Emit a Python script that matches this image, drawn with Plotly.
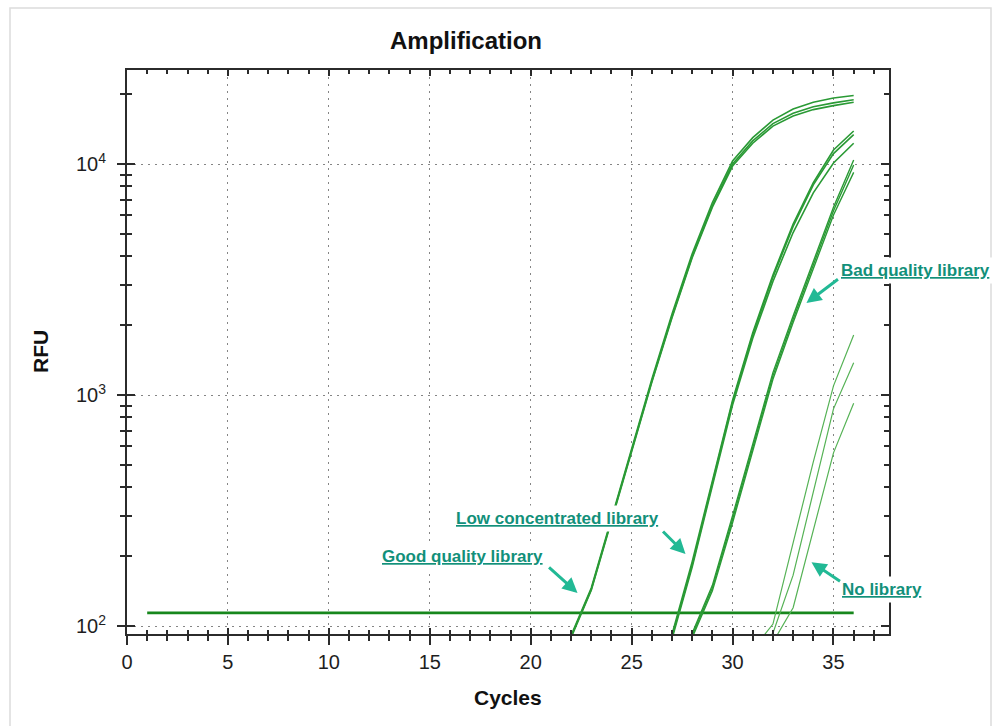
import math
import plotly.graph_objects as go

# ---------------- data ----------------
threshold_cycles = [1, 36]
threshold_rfu = [114, 114]

good_cycles = [22, 23, 24, 25, 26, 27, 28, 29, 30, 31, 32, 33, 34, 35, 36]
good_a = [91, 146, 292, 585, 1170, 2240, 4090, 6810, 10300, 13000, 15500, 17300, 18500, 19300, 19800]
good_b = [90, 144, 288, 575, 1148, 2188, 3981, 6607, 10000, 12590, 14960, 16600, 17700, 18400, 18970]
good_c = [89, 143, 285, 568, 1135, 2160, 3930, 6500, 9800, 12300, 14600, 16150, 17200, 17900, 18500]

low_cycles = [27, 28, 29, 30, 31, 32, 33, 34, 35, 36]
low_a = [92, 190, 425, 950, 1860, 3310, 5500, 8300, 11500, 13900]
low_b = [90, 184, 415, 930, 1820, 3236, 5370, 8128, 11100, 13400]
low_c = [88, 180, 405, 905, 1760, 3100, 5050, 7500, 10100, 12300]

bad_cycles = [28, 29, 30, 31, 32, 33, 34, 35, 36]
bad_a = [93, 150, 300, 620, 1250, 2200, 3800, 6500, 10400]
bad_b = [91, 146, 290, 600, 1210, 2130, 3680, 6280, 9900]
bad_c = [89, 142, 280, 580, 1170, 2060, 3540, 6020, 9200]

none_cycles = [31, 32, 33, 34, 35, 36]
none_a = [79, 102, 229, 513, 1096, 1820]
none_b = [76, 93, 166, 380, 871, 1380]
none_c = [71, 85, 120, 263, 562, 922]

x_tick_vals = [0, 5, 10, 15, 20, 25, 30, 35]
y_tick_vals = [100, 1000, 10000]
y_tick_text = ["10<sup>2</sup>", "10<sup>3</sup>", "10<sup>4</sup>"]
y_minor_vals = [200, 300, 400, 500, 600, 700, 800, 900,
                2000, 3000, 4000, 5000, 6000, 7000, 8000, 9000, 20000]

title_text = "Amplification"
x_title = "Cycles"
y_title = "RFU"

labels = ["Good quality library", "Low concentrated library", "Bad quality library", "No library"]
# arrow tips (cycle, RFU) for each label
arrow_tips = [(22.32, 139), (27.67, 205), (33.66, 2500), (33.91, 189)]

# ---------------- styling ----------------
FONT = "Liberation Sans, Arial, Helvetica, sans-serif"
CURVE = "#2a9a35"
CURVE_LIGHT = "#55b255"
BASE = "#17871c"
TEAL_TXT = "#12907a"
TEAL_ARW = "#22b995"
AXIS = "#2b2b2b"
GRID = "#858585"

fig = go.Figure()

fig.add_trace(go.Scatter(x=threshold_cycles, y=threshold_rfu, mode="lines",
                         line=dict(color=BASE, width=2.6), showlegend=False, hoverinfo="skip"))

for ys in (good_a, good_b, good_c):
    fig.add_trace(go.Scatter(x=good_cycles, y=ys, mode="lines",
                             line=dict(color=CURVE, width=1.6), showlegend=False))
for ys in (low_a, low_b, low_c):
    fig.add_trace(go.Scatter(x=low_cycles, y=ys, mode="lines",
                             line=dict(color=CURVE, width=1.6), showlegend=False))
for ys in (bad_a, bad_b, bad_c):
    fig.add_trace(go.Scatter(x=bad_cycles, y=ys, mode="lines",
                             line=dict(color=CURVE, width=1.4), showlegend=False))
for ys in (none_a, none_b, none_c):
    fig.add_trace(go.Scatter(x=none_cycles, y=ys, mode="lines",
                             line=dict(color=CURVE_LIGHT, width=1.2), showlegend=False))

# dummy trace so the overlay axes (inside ticks) are drawn
fig.add_trace(go.Scatter(x=[None], y=[None], xaxis="x2", yaxis="y2",
                         showlegend=False, hoverinfo="skip"))

XR = [0, 37.75]
YR = [1.9654, 4.407]

common_font = dict(family=FONT, size=20, color="#1e1e1e")

fig.update_layout(
    width=1000, height=726,
    margin=dict(l=127, r=111, t=70, b=92),
    paper_bgcolor="white", plot_bgcolor="white",
    font=dict(family=FONT, color="#1e1e1e"),
    title=dict(text="<b>" + title_text + "</b>", x=0.466, xref="container", xanchor="center",
               y=1 - 41 / 726, yref="container", yanchor="middle",
               font=dict(family=FONT, size=24, color="#111")),
    xaxis=dict(range=XR, tickmode="array", tickvals=x_tick_vals, ticks="outside",
               ticklen=9, tickwidth=2, tickcolor=AXIS, showline=True, linewidth=2,
               linecolor=AXIS, mirror=True, tickfont=common_font,
               showgrid=True, gridcolor=GRID, gridwidth=1.2, griddash="2px,5px",
               zeroline=False,
               minor=dict(dtick=1, tick0=0, ticks="outside", ticklen=5, tickwidth=1.5,
                          tickcolor=AXIS, showgrid=False)),
    yaxis=dict(type="log", range=YR, tickmode="array", tickvals=y_tick_vals,
               ticktext=y_tick_text, ticks="outside", ticklen=8, tickwidth=2,
               tickcolor=AXIS, showline=True, linewidth=2, linecolor=AXIS, mirror=True,
               tickfont=common_font, ticklabelstandoff=7,
               showgrid=True, gridcolor=GRID, gridwidth=1.2, griddash="2px,5px",
               zeroline=False,
               minor=dict(tickmode="array", tickvals=y_minor_vals, ticks="outside",
                          ticklen=5, tickwidth=1.5, tickcolor=AXIS, showgrid=False)),
    xaxis2=dict(range=XR, overlaying="x", side="bottom", tickmode="array",
                tickvals=x_tick_vals, ticks="inside", ticklen=6, tickwidth=2,
                tickcolor=AXIS, showline=True, linewidth=2, linecolor=AXIS,
                mirror="ticks", showticklabels=False, showgrid=False, zeroline=False,
                minor=dict(dtick=1, tick0=0, ticks="inside", ticklen=4, tickwidth=1.5,
                           tickcolor=AXIS, showgrid=False)),
    yaxis2=dict(type="log", range=YR, overlaying="y", side="left", tickmode="array",
                tickvals=y_tick_vals, ticks="inside", ticklen=8, tickwidth=2,
                tickcolor=AXIS, showline=True, linewidth=2, linecolor=AXIS,
                mirror="ticks", showticklabels=False, showgrid=False, zeroline=False,
                minor=dict(tickmode="array", tickvals=y_minor_vals, ticks="inside",
                           ticklen=5, tickwidth=1.5, tickcolor=AXIS, showgrid=False)),
)

# axis titles
fig.add_annotation(text="<b>" + x_title + "</b>", xref="paper", yref="paper",
                   x=0.5, y=-63 / 564, xanchor="center", yanchor="middle", showarrow=False,
                   font=dict(family=FONT, size=21, color="#111"))
fig.add_annotation(text="<b>" + y_title + "</b>", xref="paper", yref="paper",
                   x=(40 - 127) / 762, y=0.5, xanchor="center", yanchor="middle",
                   textangle=-90, showarrow=False,
                   font=dict(family=FONT, size=21, color="#111"))

# label texts (paper coordinates, white background)
label_pos = [((462 - 127) / 762, (634 - 556) / 564),
             ((557 - 127) / 762, (634 - 518) / 564),
             ((915 - 127) / 762, (634 - 270) / 564),
             ((882 - 127) / 762, (634 - 589) / 564)]
for txt, (px, py) in zip(labels, label_pos):
    fig.add_annotation(text="<b><u>" + txt + "</u></b>", xref="paper", yref="paper",
                       x=px, y=py, xanchor="center", yanchor="middle", showarrow=False,
                       bgcolor="white", borderpad=3,
                       font=dict(family=FONT, size=17, color=TEAL_TXT))

# arrows: tip in data coordinates, tail as pixel offset
arrow_offsets = [(-30, -27), (-24, -24), (33, -25), (30, 20)]
for (tx, ty), (dx, dy) in zip(arrow_tips, arrow_offsets):
    fig.add_annotation(x=tx, y=math.log10(ty), xref="x", yref="y",
                       text="", showarrow=True, ax=dx, ay=dy, arrowhead=2, arrowsize=1,
                       arrowwidth=3, arrowcolor=TEAL_ARW, standoff=0, startstandoff=0)

# outer panel border
fig.add_shape(type="rect", xref="paper", yref="paper",
              x0=(10 - 127) / 762, x1=(991 - 127) / 762,
              y0=(634 - 730) / 564, y1=(634 - 8) / 564,
              line=dict(color="#dcdcdc", width=1.5), fillcolor="rgba(0,0,0,0)", layer="below")

fig.write_html("out.html")
